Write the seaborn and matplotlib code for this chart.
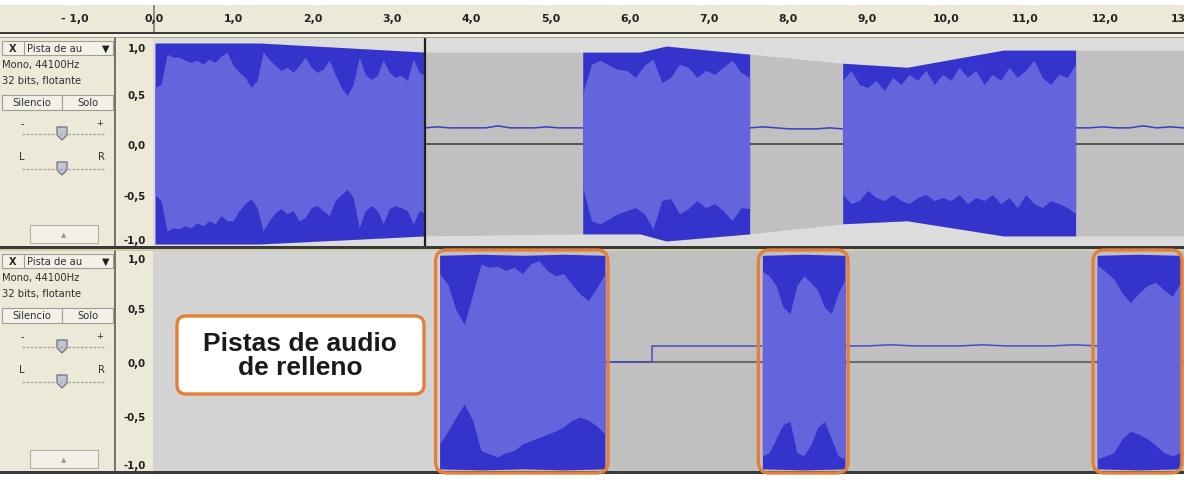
import matplotlib
matplotlib.use("Agg")
import matplotlib.pyplot as plt
from matplotlib.patches import FancyBboxPatch, Rectangle, Polygon
import numpy as np
import seaborn as sns

sns.set_style("white")
plt.rcParams["font.family"] = ["DejaVu Sans"]

W, H = 1184, 481
PX_PER_SEC = 79.5
ZERO_PX = 155

# ---------------- data ----------------
# time ruler (seconds)
ruler_ticks = list(range(-1, 14))
ruler_labels = ["- 1,0"] + [f"{v},0" for v in range(0, 14)]
ruler_minor = [v + 0.5 for v in range(-2, 13)]

# amplitude axis
amp_ticks = [1.0, 0.5, 0.0, -0.5, -1.0]
amp_labels = ["1,0", "0,5", "0,0", "-0,5", "-1,0"]

# track 1: envelope of the clip (seconds, amplitude)
env_t = [0.00, 1.32, 3.40, 5.38, 6.10, 6.43, 7.48, 8.65, 9.46, 10.67, 11.58, 12.94]
env_top = [1.00, 1.00, 0.91, 0.91, 0.91, 0.97, 0.89, 0.80, 0.76, 0.93, 0.93, 0.93]
env_bot = [-0.99, -0.99, -0.91, -0.89, -0.89, -0.96, -0.89, -0.79, -0.76, -0.91, -0.91, -0.91]

t1_clips = [(0.00, 3.40), (5.38, 7.48), (8.65, 11.58)]
t1_gaps = [(3.40, 5.38), (7.48, 8.65), (11.58, 12.94)]

# rms levels of the three sounding parts of track 1
a_rms_top = [0.56, 0.59, 0.89, 0.86, 0.86, 0.83, 0.81, 0.83, 0.79, 0.84, 0.81, 0.87,
             0.91, 0.78, 0.71, 0.66, 0.56, 0.63, 0.91, 0.84, 0.78, 0.73, 0.76, 0.71,
             0.78, 0.86, 0.76, 0.71, 0.74, 0.83, 0.69, 0.56, 0.48, 0.59, 0.86, 0.69,
             0.64, 0.68, 0.83, 0.71, 0.66, 0.68, 0.63, 0.84, 0.71, 0.68]
a_rms_bot = [-0.50, -0.56, -0.86, -0.83, -0.84, -0.81, -0.83, -0.78, -0.81, -0.76, -0.79, -0.71,
             -0.76, -0.76, -0.66, -0.59, -0.54, -0.63, -0.86, -0.76, -0.68, -0.64, -0.69, -0.66,
             -0.76, -0.73, -0.63, -0.61, -0.66, -0.71, -0.56, -0.50, -0.45, -0.53, -0.83, -0.66,
             -0.61, -0.66, -0.79, -0.64, -0.61, -0.63, -0.66, -0.79, -0.66, -0.69]
b_rms_top = [0.50, 0.79, 0.83, 0.78, 0.74, 0.73, 0.66, 0.78, 0.84, 0.61,
             0.66, 0.79, 0.76, 0.66, 0.73, 0.69, 0.76, 0.83, 0.71, 0.66]
b_rms_bot = [-0.43, -0.76, -0.79, -0.74, -0.69, -0.66, -0.63, -0.69, -0.84, -0.56,
             -0.54, -0.69, -0.64, -0.56, -0.63, -0.59, -0.66, -0.76, -0.63, -0.64]
c_rms_top = [0.63, 0.73, 0.59, 0.56, 0.63, 0.53, 0.66, 0.59, 0.69, 0.63, 0.73, 0.59,
             0.69, 0.63, 0.76, 0.66, 0.73, 0.59, 0.69, 0.63, 0.76, 0.66, 0.73, 0.83,
             0.66, 0.59, 0.69, 0.66, 0.79]
c_rms_bot = [-0.50, -0.59, -0.56, -0.46, -0.53, -0.56, -0.50, -0.56, -0.59, -0.53, -0.50, -0.56,
             -0.53, -0.56, -0.50, -0.59, -0.53, -0.56, -0.50, -0.59, -0.53, -0.63, -0.50, -0.59,
             -0.63, -0.56, -0.59, -0.63, -0.69]
t1_rms_top = [a_rms_top, b_rms_top, c_rms_top]
t1_rms_bot = [a_rms_bot, b_rms_bot, c_rms_bot]

# low "silence" signal between the parts of track 1
gap1_sig = [0.16, 0.17, 0.16, 0.16, 0.16, 0.16, 0.18, 0.16, 0.16, 0.16, 0.17, 0.16, 0.16, 0.16]
gap2_sig = [0.16, 0.17, 0.16, 0.15, 0.15, 0.15, 0.16, 0.15]
gap3_sig = [0.16, 0.16, 0.17, 0.16, 0.16, 0.18, 0.16, 0.17, 0.16]
t1_gap_sig = [gap1_sig, gap2_sig, gap3_sig]

# track 2: the three filler clips
t2_clip_start = 3.58
t2_clips = [(3.58, 5.66), (7.64, 8.68), (11.85, 12.90)]
d_peak_top = [0.99, 1.00, 0.99, 1.00, 0.99]
d_peak_bot = [-0.99, -1.00, -0.99, -1.00, -0.99]
e_peak_top = [0.99, 1.00, 0.99]
e_peak_bot = [-0.99, -1.00, -0.99]
f_peak_top = [0.99, 1.00, 0.99]
f_peak_bot = [-0.99, -1.00, -0.99]
d_rms_top = [0.82, 0.72, 0.48, 0.35, 0.63, 0.91, 0.88, 0.89, 0.85, 0.88, 0.82,
             0.91, 0.94, 0.85, 0.80, 0.82, 0.72, 0.63, 0.57, 0.69, 0.82]
d_rms_bot = [-0.76, -0.64, -0.51, -0.39, -0.54, -0.82, -0.85, -0.88, -0.84, -0.82, -0.76,
             -0.73, -0.70, -0.67, -0.64, -0.60, -0.54, -0.51, -0.54, -0.59, -0.67]
e_rms_top = [0.84, 0.80, 0.71, 0.51, 0.45, 0.71, 0.80, 0.74, 0.67, 0.51, 0.45, 0.64, 0.77]
e_rms_bot = [-0.87, -0.84, -0.71, -0.58, -0.55, -0.84, -0.87, -0.77, -0.61, -0.55, -0.71, -0.87, -0.90]
f_rms_top = [0.90, 0.84, 0.77, 0.64, 0.55, 0.64, 0.71, 0.74, 0.67, 0.61, 0.74]
f_rms_bot = [-0.90, -0.87, -0.84, -0.71, -0.64, -0.67, -0.71, -0.77, -0.84, -0.87, -0.84]
t2_peak_top = [d_peak_top, e_peak_top, f_peak_top]
t2_peak_bot = [d_peak_bot, e_peak_bot, f_peak_bot]
t2_rms_top = [d_rms_top, e_rms_top, f_rms_top]
t2_rms_bot = [d_rms_bot, e_rms_bot, f_rms_bot]

# silence signal of track 2
step_t = [5.66, 6.25, 6.25, 7.64]
step_v = [0.00, 0.00, 0.15, 0.15]
gap_t2 = (8.68, 11.85)
gap_t2_sig = [0.15, 0.15, 0.16, 0.15, 0.15, 0.15, 0.16, 0.15, 0.15, 0.15, 0.16, 0.15]

callout_text = "Pistas de audio\nde relleno"

# ---------------- colours ----------------
PEAK = "#3434cc"
RMS = "#6464dc"
CLIP_BG = "#c0c0c0"
BLANK = "#d3d3d3"
OUT_ENV = "#dcdcdc"
BEIGE = "#ece9d8"
ORANGE = "#e57f38"
SIGNAL = "#3c3cc0"

fig = plt.figure(figsize=(W / 100, H / 100), dpi=100)
fig.patch.set_facecolor("white")


def px_axes(x0, y0, x1, y1, **kw):
    return fig.add_axes([x0 / W, 1 - y1 / H, (x1 - x0) / W, (y1 - y0) / H], **kw)


# ---------------- window chrome ----------------
base = px_axes(0, 0, W, H, zorder=0)
base.set_xlim(0, W)
base.set_ylim(H, 0)
base.axis("off")

base.add_patch(Rectangle((0, 39), 153, 434, fc=BEIGE, ec="none"))
base.add_patch(Rectangle((0, 32.5), W, 2, fc="#3c3c3c", ec="none"))
base.add_patch(Rectangle((0, 34.5), W, 3, fc="#f2f0e4", ec="none"))
base.add_patch(Rectangle((0, 37.5), W, 1.5, fc="#a4a484", ec="none"))
base.add_patch(Rectangle((0, 247), W, 2.5, fc="#3a3a3a", ec="none"))
base.add_patch(Rectangle((0, 249.5), W, 2.5, fc="#cfcfa8", ec="none"))
base.add_patch(Rectangle((0, 472), W, 2.5, fc="#3a3a3a", ec="none"))

ui = dict(fontsize=7.2, color="#303030", va="center")


def thumb(ax, cx, cy):
    pts = [(cx - 5, cy - 6), (cx + 5, cy - 6), (cx + 5, cy + 2), (cx, cy + 7), (cx - 5, cy + 2)]
    ax.add_patch(Polygon(pts, closed=True, fc="#c2c6d2", ec="#6a7286", lw=0.9))


def draw_controls(ax, top, bottom):
    ax.add_patch(Rectangle((2, top + 3), 111, 14, fc="#f3f1e7", ec="#a09e94", lw=0.8))
    ax.plot([24, 24], [top + 3, top + 17], color="#a09e94", lw=0.8)
    ax.text(13, top + 10, "X", fontsize=7, fontweight="bold", ha="center", va="center")
    ax.text(27, top + 10, "Pista de au", ha="left", **ui)
    ax.text(106, top + 10, "▼", fontsize=7, ha="center", va="center", color="#202020")
    ax.text(2, top + 26, "Mono, 44100Hz", ha="left", **ui)
    ax.text(2, top + 42, "32 bits, flotante", ha="left", **ui)
    ax.add_patch(Rectangle((2, top + 57), 60, 15, fc="#f3f1e7", ec="#a09e94", lw=0.8))
    ax.add_patch(Rectangle((62, top + 57), 51, 15, fc="#f3f1e7", ec="#a09e94", lw=0.8))
    ax.text(32, top + 64.5, "Silencio", ha="center", **ui)
    ax.text(87.5, top + 64.5, "Solo", ha="center", **ui)
    ax.text(22, top + 85, "-", ha="center", fontsize=7, va="center")
    ax.text(100, top + 85, "+", ha="center", fontsize=6, va="center")
    ax.plot([22, 105], [top + 96, top + 96], color="#a8a8a0", lw=1, ls=(0, (2, 1)))
    thumb(ax, 62, top + 95)
    ax.text(22, top + 118, "L", ha="center", **ui)
    ax.text(101, top + 118, "R", ha="center", **ui)
    ax.plot([22, 105], [top + 131, top + 131], color="#a8a8a0", lw=1, ls=(0, (2, 1)))
    thumb(ax, 62, top + 130)
    ax.add_patch(Rectangle((30, bottom - 21), 68, 18, fc="#f3f1e7", ec="#b4b2a8", lw=0.8))
    ax.text(64, bottom - 12, "▲", fontsize=5, ha="center", va="center", color="#9a9a9a")
    ax.plot([115, 115], [top, bottom], color="#505050", lw=1.1)


draw_controls(base, 39, 247)
draw_controls(base, 252, 472)

# ---------------- time ruler ----------------
x_lo = (153 - ZERO_PX) / PX_PER_SEC
x_hi = (W - ZERO_PX) / PX_PER_SEC

ruler = px_axes(0, 6, W, 32.5, zorder=1)
ruler.set_facecolor(BEIGE)
ruler.set_xlim(-ZERO_PX / PX_PER_SEC, x_hi)
ruler.set_ylim(0, 1)
for s in ruler.spines.values():
    s.set_visible(False)
ruler.set_yticks([])
ruler.set_xticks(ruler_ticks, labels=[])
ruler.set_xticks(ruler_minor, minor=True)
ruler.tick_params(axis="x", which="major", direction="in", length=3, width=1, color="#505050")
ruler.tick_params(axis="x", which="minor", direction="in", length=1.5, width=1, color="#707070")
for v, lab in zip(ruler_ticks, ruler_labels):
    ruler.text(v, 0.52, lab, ha="center", va="center", fontsize=7.8, fontweight="bold",
               color="#222222", clip_on=True)
ruler.axvline(0, color="#7a7a7a", lw=1.2)

# ---------------- track 1 ----------------
ax1 = px_axes(153, 39, W, 247, zorder=2)
ax1.set_facecolor(OUT_ENV)
ax1.set_xlim(x_lo, x_hi)
ax1.set_ylim(-1.01, 1.05)
ax1.fill_between(env_t, env_bot, env_top, color=CLIP_BG, lw=0, zorder=1)
ax1.hlines(0, env_t[0], env_t[-1], color="#4a4a4a", lw=1.3, zorder=2)

env_arr = np.array(env_t)
for (s, e), rt, rb in zip(t1_clips, t1_rms_top, t1_rms_bot):
    m = (env_arr >= s - 1e-9) & (env_arr <= e + 1e-9)
    ax1.fill_between(env_arr[m], np.array(env_bot)[m], np.array(env_top)[m],
                     color=PEAK, lw=0, zorder=4)
    ax1.fill_between(np.linspace(s, e, len(rt)), rb, rt, color=RMS, lw=0, zorder=5)

for (s, e), sig in zip(t1_gaps, t1_gap_sig):
    sns.lineplot(x=np.linspace(s, e, len(sig)), y=sig, ax=ax1, color=SIGNAL, lw=1.1,
                 estimator=None, sort=False, legend=False, zorder=3)

ax1.axvline(t1_clips[0][1], color="#1e1e1e", lw=1.6, zorder=6)

# ---------------- track 2 ----------------
ax2 = px_axes(153, 252, W, 472, zorder=2)
ax2.set_facecolor(BLANK)
ax2.set_xlim(x_lo, x_hi)
ax2.set_ylim(-1.01, 1.03)
ax2.axvspan(t2_clip_start, x_hi, color=CLIP_BG, lw=0, zorder=1)
ax2.hlines(0, t2_clip_start, x_hi, color="#6a6a6a", lw=1.5, zorder=2)

sns.lineplot(x=step_t, y=step_v, ax=ax2, color="#4a4ac4", lw=1.1,
             estimator=None, sort=False, legend=False, zorder=3)
sns.lineplot(x=np.linspace(gap_t2[0], gap_t2[1], len(gap_t2_sig)), y=gap_t2_sig, ax=ax2,
             color="#4a4ac4", lw=1.1, estimator=None, sort=False, legend=False, zorder=3)

for (s, e), pt, pb, rt, rb in zip(t2_clips, t2_peak_top, t2_peak_bot, t2_rms_top, t2_rms_bot):
    ax2.fill_between(np.linspace(s, e, len(pt)), pb, pt, color=PEAK, lw=0, zorder=4)
    ax2.fill_between(np.linspace(s, e, len(rt)), rb, rt, color=RMS, lw=0, zorder=5)

# amplitude labels like Audacity's vertical ruler
for ax in (ax1, ax2):
    for s in ax.spines.values():
        s.set_visible(False)
    ax.set_xticks([])
    ax.set_yticks(amp_ticks, labels=amp_labels)
    ax.tick_params(axis="y", direction="out", length=4.5, width=1, pad=0.8,
                   color="#303030", labelsize=7.4, labelcolor="#202020")
    for lab in ax.get_yticklabels():
        lab.set_fontweight("bold")
    ticks = ax.yaxis.get_major_ticks()
    for i in (0, len(ticks) - 1):
        ticks[i].tick1line.set_visible(False)
    ticks[0].label1.set_verticalalignment("top")
    ticks[-1].label1.set_verticalalignment("bottom")

# ---------------- annotation overlay ----------------
ov = px_axes(0, 0, W, H, zorder=10)
ov.set_xlim(0, W)
ov.set_ylim(H, 0)
ov.axis("off")

fig.canvas.draw()
for s, e in t2_clips:
    x0 = ax2.transData.transform((s, 0))[0] - 4
    x1 = min(ax2.transData.transform((e, 0))[0] + 3, W - 2)
    ov.add_patch(FancyBboxPatch((x0, 251), x1 - x0, 223,
                                boxstyle="round,pad=0,rounding_size=11",
                                fc="none", ec=ORANGE, lw=2.4))

ov.add_patch(FancyBboxPatch((177, 317), 247, 78, boxstyle="round,pad=0,rounding_size=9",
                            fc="white", ec=ORANGE, lw=2.4))
ov.text(300, 356, callout_text, ha="center", va="center", fontsize=19, fontweight="bold",
        family=["Liberation Sans", "DejaVu Sans"], color="#1a1a1a", linespacing=1.05)

fig.savefig("out.png", dpi=100)
